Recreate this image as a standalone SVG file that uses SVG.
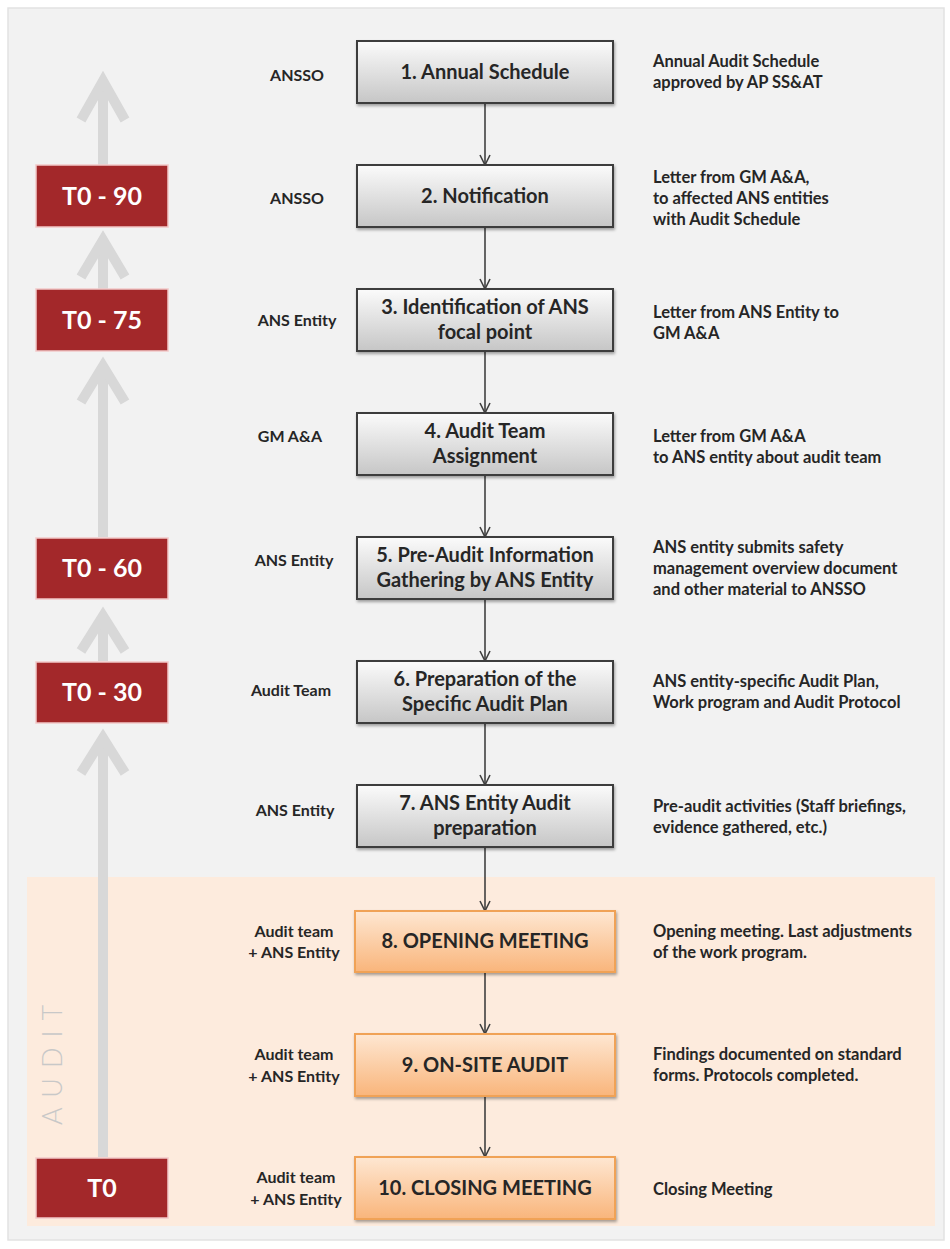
<svg xmlns="http://www.w3.org/2000/svg" width="950" height="1249" viewBox="0 0 950 1249">
<defs>
<linearGradient id="gGray" x1="0" y1="0" x2="0" y2="1">
<stop offset="0" stop-color="#fbfbfb"/>
<stop offset="1" stop-color="#c6c6c6"/>
</linearGradient>
<linearGradient id="gOrange" x1="0" y1="0" x2="0" y2="1">
<stop offset="0" stop-color="#fee7d2"/>
<stop offset="1" stop-color="#f9b57b"/>
</linearGradient>
<filter id="sh" x="-10%" y="-10%" width="120%" height="130%">
<feDropShadow dx="1" dy="2" stdDeviation="1.5" flood-color="#000" flood-opacity="0.35"/>
</filter>
<marker id="arr" viewBox="0 0 12 12" refX="11" refY="6" markerWidth="12" markerHeight="12" orient="auto" markerUnits="userSpaceOnUse">
<path d="M1,1 L11,6 L1,11" fill="none" stroke="#404040" stroke-width="1.6"/>
</marker>
</defs>
<style>
.t{font-family:"Lato","Liberation Sans",sans-serif;font-weight:700;}
.node{font-size:20px;fill:#262626;text-anchor:middle;}
.lab{font-size:16px;fill:#262626;text-anchor:middle;}
.desc{font-size:16.5px;fill:#262626;}
.red{fill:#a3282a;stroke:#f2c9c9;stroke-width:1.5;}
.rt{font-size:25px;fill:#ffffff;text-anchor:middle;}
.gbox{fill:url(#gGray);stroke:#3c3c3c;stroke-width:2;filter:url(#sh);}
.obox{fill:url(#gOrange);stroke:#f0a257;stroke-width:2;filter:url(#sh);}
.conn{stroke:#404040;stroke-width:1.6;fill:none;marker-end:url(#arr);}
.shaft{stroke:#d8d8d8;stroke-width:10;fill:none;}
.chev{stroke:#d8d8d8;stroke-width:10;fill:none;stroke-linejoin:miter;}
.aud{font-family:"Lato","Liberation Sans",sans-serif;font-weight:300;font-size:27px;fill:#c8c8c8;text-anchor:middle;letter-spacing:10px;}
</style>
<rect x="0" y="0" width="950" height="1249" fill="#ffffff"/>
<rect x="8" y="8" width="936" height="1232" fill="#f2f2f2" stroke="#e2e2e2" stroke-width="1.5"/>
<rect x="27" y="877" width="908" height="349" fill="#fdebdd"/>

<g id="timeline">
<line class="shaft" x1="103" y1="165" x2="103" y2="82"/>
<polyline class="chev" points="81,120 103,81 125,120"/>
<line class="shaft" x1="103" y1="289" x2="103" y2="241"/>
<polyline class="chev" points="81,277 103,240 125,277"/>
<line class="shaft" x1="103" y1="537" x2="103" y2="367"/>
<polyline class="chev" points="81,402 103,366 125,402"/>
<line class="shaft" x1="103" y1="661" x2="103" y2="617"/>
<polyline class="chev" points="81,651 103,616 125,651"/>
<line class="shaft" x1="103" y1="1157" x2="103" y2="739"/>
<polyline class="chev" points="81,773 103,738 125,773"/>
<text class="aud" x="0" y="0" transform="translate(62,1060) rotate(-90)">AUDIT</text>
</g>

<g id="t90"><rect class="red" x="36" y="165" width="132" height="62"/><text class="t rt" x="102" y="205">T0 - 90</text></g>
<g id="t75"><rect class="red" x="36" y="289" width="132" height="62"/><text class="t rt" x="102" y="329">T0 - 75</text></g>
<g id="t60"><rect class="red" x="36" y="538" width="132" height="61"/><text class="t rt" x="102" y="577">T0 - 60</text></g>
<g id="t30"><rect class="red" x="36" y="662" width="132" height="61"/><text class="t rt" x="102" y="701">T0 - 30</text></g>
<g id="t0"><rect class="red" x="36" y="1158" width="132" height="60"/><text class="t rt" x="102" y="1197">T0</text></g>

<g id="connectors">
<line class="conn" x1="485" y1="103" x2="485" y2="165"/>
<line class="conn" x1="485" y1="227" x2="485" y2="289"/>
<line class="conn" x1="485" y1="351" x2="485" y2="413"/>
<line class="conn" x1="485" y1="475" x2="485" y2="537"/>
<line class="conn" x1="485" y1="599" x2="485" y2="661"/>
<line class="conn" x1="485" y1="723" x2="485" y2="785"/>
<line class="conn" x1="485" y1="847" x2="485" y2="911"/>
<line class="conn" x1="485" y1="972" x2="485" y2="1034"/>
<line class="conn" x1="485" y1="1096" x2="485" y2="1157"/>
</g>

<g id="n1">
<text class="t lab" x="297" y="81">ANSSO</text>
<rect class="gbox" x="357" y="41" width="256" height="62"/>
<text class="t node" x="485" y="79">1. Annual Schedule</text>
<text class="t desc" x="653" y="67">Annual Audit Schedule</text>
<text class="t desc" x="653" y="88">approved by AP SS&amp;AT</text>
</g>
<g id="n2">
<text class="t lab" x="297" y="204">ANSSO</text>
<rect class="gbox" x="357" y="165" width="256" height="62"/>
<text class="t node" x="485" y="203">2. Notification</text>
<text class="t desc" x="653" y="183">Letter from GM A&amp;A,</text>
<text class="t desc" x="653" y="204">to affected ANS entities</text>
<text class="t desc" x="653" y="225">with Audit Schedule</text>
</g>
<g id="n3">
<text class="t lab" x="297" y="326">ANS Entity</text>
<rect class="gbox" x="357" y="289" width="256" height="62"/>
<text class="t node" x="485" y="314">3. Identification of ANS</text>
<text class="t node" x="485" y="339">focal point</text>
<text class="t desc" x="653" y="318">Letter from ANS Entity  to</text>
<text class="t desc" x="653" y="339">GM A&amp;A</text>
</g>
<g id="n4">
<text class="t lab" x="290" y="442">GM A&amp;A</text>
<rect class="gbox" x="357" y="413" width="256" height="62"/>
<text class="t node" x="485" y="438">4. Audit Team</text>
<text class="t node" x="485" y="463">Assignment</text>
<text class="t desc" x="653" y="442">Letter from GM A&amp;A</text>
<text class="t desc" x="653" y="463">to ANS entity about audit team</text>
</g>
<g id="n5">
<text class="t lab" x="294" y="566">ANS Entity</text>
<rect class="gbox" x="357" y="537" width="256" height="62"/>
<text class="t node" x="485" y="562">5. Pre-Audit Information</text>
<text class="t node" x="485" y="587">Gathering by ANS Entity</text>
<text class="t desc" x="653" y="553">ANS entity submits safety</text>
<text class="t desc" x="653" y="574">management overview document</text>
<text class="t desc" x="653" y="595">and other material to ANSSO</text>
</g>
<g id="n6">
<text class="t lab" x="291" y="696">Audit Team</text>
<rect class="gbox" x="357" y="661" width="256" height="62"/>
<text class="t node" x="485" y="686">6. Preparation of the</text>
<text class="t node" x="485" y="711">Specific Audit Plan</text>
<text class="t desc" x="653" y="687">ANS entity-specific Audit Plan,</text>
<text class="t desc" x="653" y="708">Work program and Audit Protocol</text>
</g>
<g id="n7">
<text class="t lab" x="295" y="816">ANS Entity</text>
<rect class="gbox" x="357" y="785" width="256" height="62"/>
<text class="t node" x="485" y="810">7.  ANS Entity Audit</text>
<text class="t node" x="485" y="835">preparation</text>
<text class="t desc" x="653" y="812">Pre-audit activities (Staff briefings,</text>
<text class="t desc" x="653" y="833">evidence gathered, etc.)</text>
</g>
<g id="n8">
<text class="t lab" x="294" y="937">Audit team</text>
<text class="t lab" x="294" y="958">+ ANS Entity</text>
<rect class="obox" x="355" y="911" width="260" height="61"/>
<text class="t node" x="485" y="948">8. OPENING MEETING</text>
<text class="t desc" x="653" y="937">Opening meeting. Last adjustments</text>
<text class="t desc" x="653" y="958">of the work program.</text>
</g>
<g id="n9">
<text class="t lab" x="294" y="1060">Audit team</text>
<text class="t lab" x="294" y="1082">+ ANS Entity</text>
<rect class="obox" x="355" y="1034" width="260" height="62"/>
<text class="t node" x="485" y="1072">9. ON-SITE AUDIT</text>
<text class="t desc" x="653" y="1060">Findings documented on standard</text>
<text class="t desc" x="653" y="1081">forms. Protocols completed.</text>
</g>
<g id="n10">
<text class="t lab" x="296" y="1183">Audit team</text>
<text class="t lab" x="296" y="1205">+ ANS Entity</text>
<rect class="obox" x="355" y="1157" width="260" height="62"/>
<text class="t node" x="485" y="1195">10. CLOSING MEETING</text>
<text class="t desc" x="653" y="1195">Closing Meeting</text>
</g>
</svg>
